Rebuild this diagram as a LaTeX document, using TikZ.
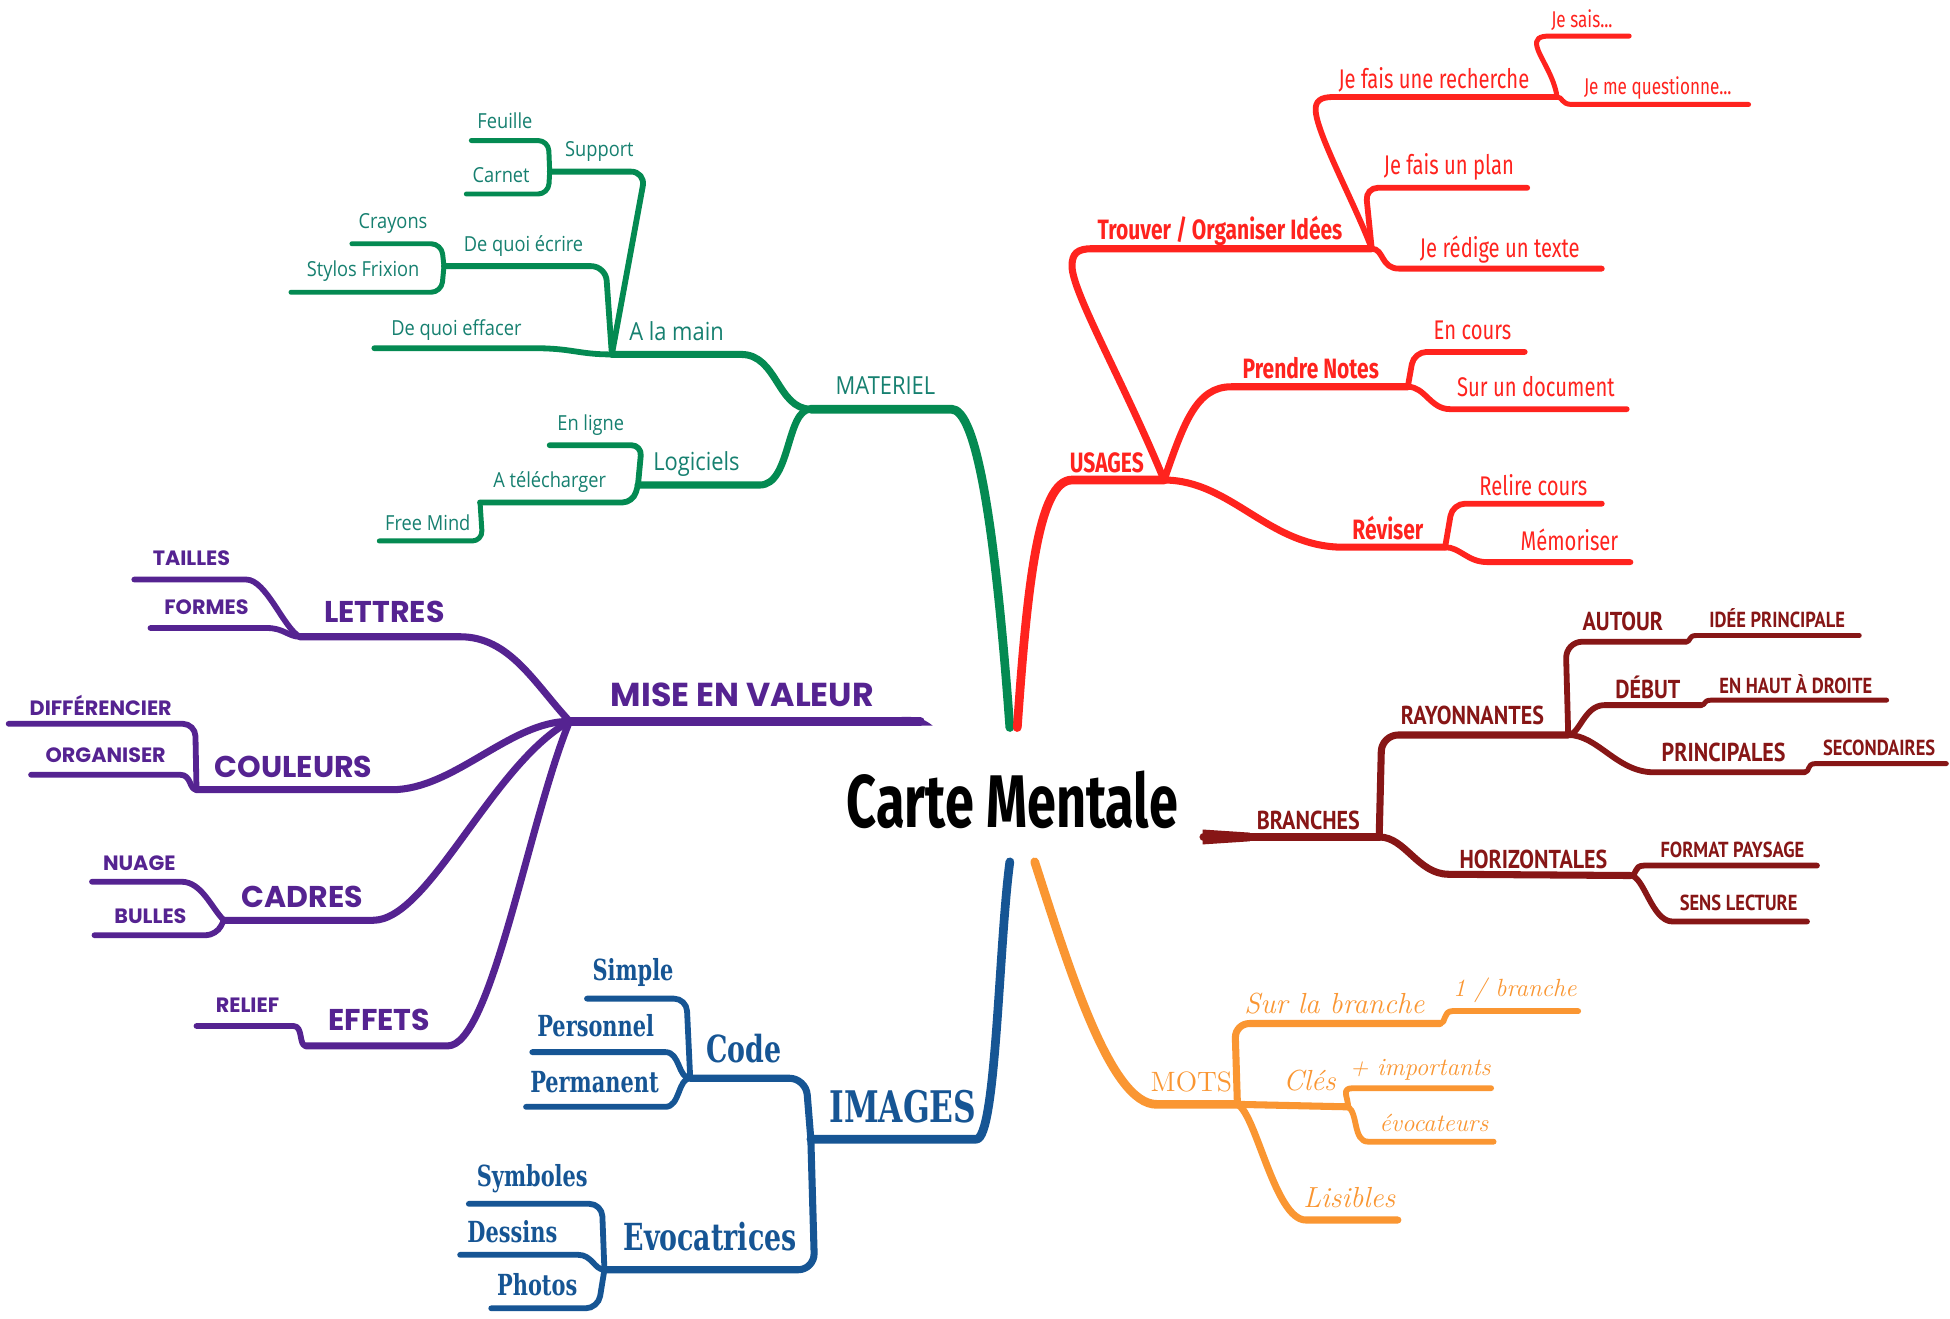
\documentclass[tikz,border=0pt]{standalone}
\usepackage{fontspec}
\newfontfamily\fGreen[FakeStretch=0.88]{Open Sans}
\newfontfamily\fRed[FakeStretch=0.75]{Fira Sans}
\newfontfamily\fPurple{Poppins}
\newfontfamily\fDred[FakeStretch=0.85]{PT Sans}
\newfontfamily\fBlue[FakeStretch=0.72]{DejaVu Serif}
\newfontfamily\fTitle[FakeStretch=0.7]{Fira Sans}
\definecolor{gline}{RGB}{4,138,82}
\definecolor{gtext}{RGB}{22,128,112}
\definecolor{rline}{RGB}{255,35,30}
\definecolor{dline}{RGB}{135,22,22}
\definecolor{pline}{RGB}{85,35,145}
\definecolor{bline}{RGB}{22,85,148}
\definecolor{oline}{RGB}{250,150,50}
\tikzset{
  lnbase/.style={line cap=round, line join=round},
  L1/.style={lnbase, line width=4.2pt},
  L2/.style={lnbase, line width=3.4pt},
  L3/.style={lnbase, line width=2.8pt},
  L4/.style={lnbase, line width=2.4pt},
  tx/.style={inner sep=0pt, anchor=center},
  gt/.style={tx, text=gtext, font=\fGreen\fontsize{10}{12}\selectfont},
  gtb/.style={tx, text=gtext, font=\fGreen\fontsize{12}{14}\selectfont},
  rt/.style={tx, text=rline, font=\fRed\fontsize{13}{15}\selectfont},
  rtb/.style={tx, text=rline, font=\fRed\bfseries\fontsize{13.5}{15}\selectfont},
  rts/.style={tx, text=rline, font=\fRed\fontsize{11}{13}\selectfont},
  dtb/.style={tx, text=dline, font=\fDred\bfseries\fontsize{12.5}{14}\selectfont},
  dts/.style={tx, text=dline, font=\fDred\bfseries\fontsize{10.5}{12}\selectfont},
  ptb/.style={tx, text=pline, font=\fPurple\bfseries\fontsize{16}{18}\selectfont},
  ptm/.style={tx, text=pline, font=\fPurple\bfseries\fontsize{14.5}{16}\selectfont},
  pts/.style={tx, text=pline, font=\fPurple\bfseries\fontsize{10}{12}\selectfont},
  btb/.style={tx, text=bline, font=\fBlue\bfseries\fontsize{21}{23}\selectfont},
  btm/.style={tx, text=bline, font=\fBlue\bfseries\fontsize{18}{20}\selectfont},
  bts/.style={tx, text=bline, font=\fBlue\bfseries\fontsize{14}{16}\selectfont},
  otb/.style={tx, text=oline, font=\rmfamily\itshape\fontsize{14}{16}\selectfont},
  otu/.style={tx, text=oline, font=\rmfamily\fontsize{13.5}{16}\selectfont},
  ots/.style={tx, text=oline, font=\rmfamily\itshape\fontsize{12}{14}\selectfont},
}
\begin{document}
\begin{tikzpicture}[x=0.6pt,y=-0.6pt]
\useasboundingbox (0,0) rectangle (1568,1060);
\fill[white] (0,0) rectangle (1568,1060);

% ---------------- GREEN : MATERIEL ----------------
\coordinate (gS) at (812,585);
\coordinate (gJ) at (652,329);
\coordinate (gA) at (492,285);
\coordinate (gL) at (513,390);
\coordinate (gEff) at (301,280);
\coordinate (gEcr) at (357,214);
\coordinate (gSup) at (442,138);
\coordinate (gFeu) at (379,113);
\coordinate (gCar) at (375,156);
\coordinate (gCra) at (283,196);
\coordinate (gSty) at (234,235);
\coordinate (gLig) at (442,358);
\coordinate (gTel) at (386,404);
\coordinate (gFree) at (305,435);

\draw[L1,gline] (gS) .. controls (800,420) and (785,329) .. (765,329) -- (gJ);
\draw[L2,gline] (gJ) .. controls (625,329) and (625,285) .. (596,285) -- (gA);
\draw[L2,gline] (gJ) .. controls (632,329) and (636,390) .. (611,390) -- (gL);
\draw[L3,gline] (gA) .. controls (465,285) and (460,280) .. (430,280) -- (gEff);
\draw[L3,gline,rounded corners=7pt] (gA) -- (487,214) -- (gEcr);
\draw[L3,gline,rounded corners=7pt] (gA) -- (519,138) -- (gSup);
\draw[L4,gline,rounded corners=5pt] (gSup) -- (441,113) -- (gFeu);
\draw[L4,gline,rounded corners=5pt] (gSup) -- (441,156) -- (gCar);
\draw[L4,gline,rounded corners=5pt] (gEcr) -- (355,196) -- (gCra);
\draw[L4,gline,rounded corners=5pt] (gEcr) -- (355,235) -- (gSty);
\draw[L3,gline,rounded corners=5pt] (gL) -- (516,358) -- (gLig);
\draw[L3,gline,rounded corners=5pt] (gL) -- (509,404) -- (gTel);
\draw[L4,gline,rounded corners=5pt] (gTel) -- (388,435) -- (gFree);

\node[gt] (tFeu) at (406,97) {Feuille};
\node[gt] (tSup) at (482,122) {Support};
\node[gt] (tCar) at (403,141) {Carnet};
\node[gt] (tCra) at (316,180) {Crayons};
\node[gt] (tEcr) at (421,198) {De quoi écrire};
\node[gt] (tSty) at (292,218) {Stylos Frixion};
\node[gt] (tEff) at (367,265) {De quoi effacer};
\node[gtb] (tMain) at (544,266) {A la main};
\node[gtb] (tMat) at (712,310) {MATERIEL};
\node[gt] (tLig) at (475,342) {En ligne};
\node[gtb] (tLog) at (560,373) {Logiciels};
\node[gt] (tTel) at (442,388) {A télécharger};
\node[gt] (tFree) at (344,420) {Free Mind};

% ---------------- RED : USAGES ----------------
\coordinate (rS) at (818,585);
\coordinate (rU) at (936,386);
\coordinate (rT) at (1103,200);
\coordinate (rR) at (1252,78);
\coordinate (rSais) at (1310,29);
\coordinate (rQ) at (1406,84);
\coordinate (rPlan) at (1228,151);
\coordinate (rRed) at (1288,216);
\coordinate (rN) at (1132,311);
\coordinate (rEnc) at (1226,283);
\coordinate (rSur) at (1308,329);
\coordinate (rRev) at (1162,440);
\coordinate (rRel) at (1288,405);
\coordinate (rMem) at (1311,452);

\draw[L1,rline] (rS) .. controls (826,470) and (835,386) .. (862,386) -- (rU);
\draw[L2,rline] (rU) .. controls (905,310) and (862,235) .. (862,214) .. controls (862,204) and (866,200) .. (878,200) -- (rT);
\draw[L3,rline] (rT) .. controls (1090,165) and (1060,110) .. (1058,90) .. controls (1057,81) and (1062,78) .. (1072,78) -- (rR);
\draw[L3,rline,rounded corners=6pt] (rT) -- (1098,151) -- (rPlan);
\draw[L3,rline] (rT) .. controls (1113,200) and (1110,216) .. (1125,216) -- (rRed);
\draw[L4,rline] (rR) .. controls (1250,62) and (1238,46) .. (1236,38) .. controls (1234,31) and (1238,29) .. (1246,29) -- (rSais);
\draw[L4,rline] (rR) .. controls (1257,78) and (1255,84) .. (1264,84) -- (rQ);
\draw[L2,rline] (rU) .. controls (952,340) and (962,311) .. (990,311) -- (rN);
\draw[L3,rline,rounded corners=6pt] (rN) -- (1137,283) -- (rEnc);
\draw[L3,rline] (rN) .. controls (1146,311) and (1150,329) .. (1166,329) -- (rSur);
\draw[L2,rline] (rU) .. controls (990,386) and (1020,440) .. (1080,440) -- (rRev);
\draw[L3,rline,rounded corners=6pt] (rRev) -- (1168,405) -- (rRel);
\draw[L3,rline] (rRev) .. controls (1174,440) and (1180,452) .. (1196,452) -- (rMem);

\node[rtb] (tTrouver) at (981,186) {Trouver / Organiser Idées};
\node[rt] (tRech) at (1153,64) {Je fais une recherche};
\node[rts] (tSais) at (1272,16) {Je sais...};
\node[rts] (tQuest) at (1333,71) {Je me questionne...};
\node[rt] (tPlan) at (1165,134) {Je fais un plan};
\node[rt] (tRedige) at (1206,201) {Je rédige un texte};
\node[rtb] (tUsages) at (890,372) {USAGES};
\node[rtb] (tNotes) at (1054,296) {Prendre Notes};
\node[rt] (tEnc) at (1184,266) {En cours};
\node[rt] (tSurDoc) at (1235,311) {Sur un document};
\node[rtb] (tRev) at (1116,425) {Réviser};
\node[rt] (tRel) at (1233,390) {Relire cours};
\node[rt] (tMem) at (1262,434) {Mémoriser};

% ---------------- DARK RED : BRANCHES ----------------
\coordinate (dS) at (968,673);
\coordinate (dJ) at (1109,673);
\coordinate (dR) at (1261,591);
\coordinate (dAut) at (1356,516);
\coordinate (dIdee) at (1495,511);
\coordinate (dDeb) at (1368,567);
\coordinate (dHaut) at (1517,563);
\coordinate (dPri) at (1451,621);
\coordinate (dSec) at (1565,614);
\coordinate (dH) at (1311,704);
\coordinate (dFmt) at (1461,696);
\coordinate (dSens) at (1453,741);

\fill[dline] (967,667) -- (1005,669.5) -- (1005,676.5) -- (967,679) -- cycle;
\draw[L1,dline] (dS) -- (dJ);
\draw[L2,dline,rounded corners=8pt] (dJ) -- (1111,591) -- (dR);
\draw[L2,dline] (dJ) .. controls (1130,673) and (1140,703) .. (1165,703) -- (dH);
\draw[L3,dline,rounded corners=8pt] (dR) -- (1259,516) -- (dAut);
\draw[L4,dline] (dAut) .. controls (1360,516) and (1357,511) .. (1364,511) -- (dIdee);
\draw[L3,dline] (dR) .. controls (1270,591) and (1274,567) .. (1290,567) -- (dDeb);
\draw[L4,dline] (dDeb) .. controls (1372,567) and (1369,563) .. (1376,563) -- (dHaut);
\draw[L3,dline] (dR) .. controls (1285,591) and (1300,621) .. (1330,621) -- (dPri);
\draw[L4,dline] (dPri) .. controls (1456,621) and (1452,614) .. (1460,614) -- (dSec);
\draw[L3,dline] (dH) .. controls (1317,704) and (1313,696) .. (1322,696) -- (dFmt);
\draw[L3,dline] (dH) .. controls (1322,704) and (1328,741) .. (1345,741) -- (dSens);

\node[dtb] (tBr) at (1052,660) {BRANCHES};
\node[dtb] (tRay) at (1184,575) {RAYONNANTES};
\node[dtb] (tAut) at (1305,500) {AUTOUR};
\node[dts] (tIdee) at (1429,497) {IDÉE PRINCIPALE};
\node[dtb] (tDeb) at (1325,553) {DÉBUT};
\node[dts] (tHaut) at (1444,550) {EN HAUT À DROITE};
\node[dtb] (tPri) at (1386,605) {PRINCIPALES};
\node[dts] (tSec) at (1511,601) {SECONDAIRES};
\node[dtb] (tHor) at (1233,691) {HORIZONTALES};
\node[dts] (tFmt) at (1393,683) {FORMAT PAYSAGE};
\node[dts] (tSens) at (1398,726) {SENS LECTURE};

% ---------------- PURPLE : MISE EN VALEUR ----------------
\coordinate (pJ) at (458,580);
\coordinate (pEnd) at (740,580);
\coordinate (pLet) at (241,512);
\coordinate (pTai) at (108,466);
\coordinate (pFor) at (121,505);
\coordinate (pCou) at (158,635);
\coordinate (pDif) at (7,582);
\coordinate (pOrg) at (25,623);
\coordinate (pCad) at (180,740);
\coordinate (pNua) at (74,709);
\coordinate (pBul) at (76,752);
\coordinate (pEff) at (246,841);
\coordinate (pRel) at (158,825);

\draw[L1,pline] (pJ) -- (pEnd);
\fill[pline] (725,576.5) .. controls (735,576) and (742,577) .. (750,583.5) -- (725,583.5) -- cycle;
\draw[L2,pline] (pJ) .. controls (430,550) and (410,512) .. (370,512) -- (pLet);
\draw[L2,pline] (pJ) .. controls (410,580) and (365,635) .. (315,635) -- (pCou);
\draw[L2,pline] (pJ) .. controls (395,615) and (345,740) .. (300,740) -- (pCad);
\draw[L2,pline] (pJ) .. controls (425,660) and (395,841) .. (360,841) -- (pEff);
\draw[L3,pline] (pLet) .. controls (228,505) and (214,466) .. (198,466) -- (pTai);
\draw[L3,pline] (pLet) .. controls (232,512) and (228,505) .. (215,505) -- (pFor);
\draw[L3,pline,rounded corners=6pt] (pCou) -- (157,582) -- (pDif);
\draw[L3,pline] (pCou) .. controls (152,635) and (154,623) .. (145,623) -- (pOrg);
\draw[L3,pline] (pCad) .. controls (170,730) and (162,709) .. (146,709) -- (pNua);
\draw[L3,pline,rounded corners=5pt] (pCad) -- (174,752) -- (pBul);
\draw[L3,pline] (pEff) .. controls (240,841) and (244,825) .. (236,825) -- (pRel);

\node[ptb] (tMise) at (597,559) {MISE EN VALEUR};
\node[ptm] (tLet) at (309,492) {LETTRES};
\node[ptm] (tCou) at (236,617) {COULEURS};
\node[ptm] (tCad) at (243,721) {CADRES};
\node[ptm] (tEffets) at (305,820) {EFFETS};
\node[pts] (tTai) at (154,449) {TAILLES};
\node[pts] (tFor) at (166,488) {FORMES};
\node[pts] (tDif) at (81,567) {DIFFÉRENCIER};
\node[pts] (tOrg) at (85,607) {ORGANISER};
\node[pts] (tNua) at (112,694) {NUAGE};
\node[pts] (tBul) at (121,737) {BULLES};
\node[pts] (tRel) at (199,808) {RELIEF};

% ---------------- BLUE : IMAGES ----------------
\coordinate (bS) at (812,693);
\coordinate (bJ) at (652,916);
\coordinate (bC) at (555,867);
\coordinate (bE) at (486,1021);
\coordinate (bSimple) at (472,803);
\coordinate (bPers) at (428,846);
\coordinate (bPerm) at (423,890);
\coordinate (bSym) at (377,968);
\coordinate (bDes) at (370,1009);
\coordinate (bPho) at (395,1052);

\draw[L1,bline] (bS) .. controls (803,760) and (801,916) .. (785,916) -- (bJ);
\draw[L2,bline,rounded corners=8pt] (bJ) -- (648,867) -- (bC);
\draw[L2,bline,rounded corners=8pt] (bJ) -- (655,1021) -- (bE);
\draw[L3,bline,rounded corners=6pt] (bC) -- (552,803) -- (bSimple);
\draw[L3,bline] (bC) .. controls (545,867) and (547,846) .. (535,846) -- (bPers);
\draw[L3,bline] (bC) .. controls (545,867) and (547,890) .. (535,890) -- (bPerm);
\draw[L3,bline,rounded corners=6pt] (bE) -- (484,968) -- (bSym);
\draw[L3,bline] (bE) .. controls (478,1021) and (476,1009) .. (465,1009) -- (bDes);
\draw[L3,bline,rounded corners=6pt] (bE) -- (481,1052) -- (bPho);

\node[btb] (tImg) at (726,890) {IMAGES};
\node[btm] (tCode) at (598,843) {Code};
\node[btm] (tEvo) at (571,994) {Evocatrices};
\node[bts] (tSimple) at (509,782) {Simple};
\node[bts] (tPers) at (479,825) {Personnel};
\node[bts] (tPerm) at (478,870) {Permanent};
\node[bts] (tSym) at (428,948) {Symboles};
\node[bts] (tDes) at (412,990) {Dessins};
\node[bts] (tPho) at (432,1033) {Photos};

% ---------------- ORANGE : MOTS ----------------
\coordinate (oS) at (832,693);
\coordinate (oJ) at (995,888);
\coordinate (oSur) at (1158,823);
\coordinate (oBr) at (1269,813);
\coordinate (oC) at (1084,890);
\coordinate (oImp) at (1199,875);
\coordinate (oEvo) at (1201,918);
\coordinate (oLis) at (1124,981);

\draw[L1,oline] (oS) .. controls (860,780) and (893,888) .. (930,888) -- (oJ);
\draw[L2,oline,rounded corners=7pt] (oJ) -- (993,823) -- (oSur);
\draw[L3,oline] (oSur) .. controls (1163,823) and (1160,813) .. (1168,813) -- (oBr);
\draw[L2,oline] (oJ) -- (oC);
\draw[L3,oline] (oC) .. controls (1084,882) and (1078,875) .. (1088,875) -- (oImp);
\draw[L3,oline] (oC) .. controls (1092,895) and (1088,918) .. (1100,918) -- (oEvo);
\draw[L2,oline] (oJ) .. controls (1010,895) and (1025,981) .. (1050,981) -- (oLis);

\node[otu] (tMots) at (958,870) {MOTS};
\node[otb] (tSurB) at (1073,807) {Sur la branche};
\node[ots] (tUnB) at (1218,796) {1 / branche};
\node[otb] (tCles) at (1053,869) {Clés};
\node[ots] (tImp) at (1142,860) {+ importants};
\node[ots] (tEvoc) at (1153,903) {évocateurs};
\node[otb] (tLis) at (1085,963) {Lisibles};

% ---------------- TITLE ----------------
\node[tx, font=\fTitle\bfseries\fontsize{36}{40}\selectfont] (title) at (814,643) {Carte Mentale};
\end{tikzpicture}
\end{document}
